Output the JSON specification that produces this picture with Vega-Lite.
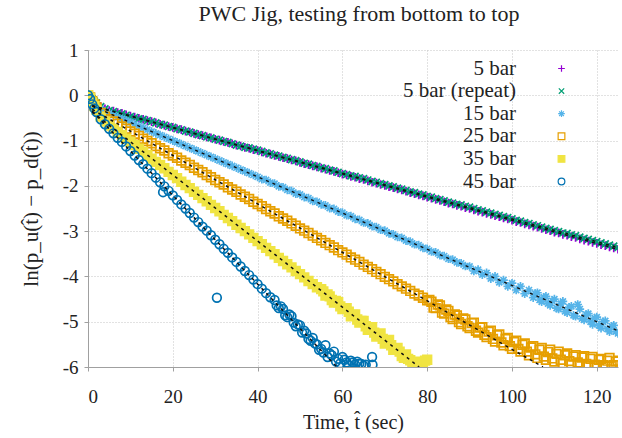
{
"$schema":"https://vega.github.io/schema/vega-lite/v6.json",
"width":530,"height":317,"autosize":"none",
"padding":{"left":88,"top":50,"right":4,"bottom":71},
"background":"white",
"title":{"text":"PWC Jig, testing from bottom to top","font":"Liberation Serif","fontSize":22,"fontWeight":"normal","color":"#222","anchor":"middle","offset":15,"dx":6},
"datasets":{
"pts":[
{"t":0,"a":0,"b":0,"c":0,"d":0,"e":0,"f":0},
{"t":0.5,"a":-0.03,"b":-0.03,"c":-0.04,"d":-0.05,"e":-0.06,"f":-0.08},
{"t":1,"a":-0.08,"b":-0.08,"c":-0.10,"d":-0.13,"e":-0.16,"f":-0.20},
{"t":1.5,"a":-0.13,"b":-0.13,"c":-0.16,"d":-0.20,"e":-0.24,"f":-0.29},
{"t":2,"a":-0.17,"b":-0.17,"c":-0.21,"d":-0.27,"e":-0.32,"f":-0.37},
{"t":3,"a":-0.25,"b":-0.25,"c":-0.30,"d":-0.39,"e":-0.47,"f":-0.53},
{"t":4,"a":-0.30,"b":-0.30,"c":-0.36,"d":-0.47,"e":-0.58,"f":-0.64},
{"t":5,"a":-0.34,"b":-0.34,"c":-0.40,"d":-0.53,"e":-0.67,"f":-0.74},
{"t":6,"a":-0.35,"b":-0.36,"c":-0.44,"d":-0.58,"e":-0.74,"f":-0.84},
{"t":7,"a":-0.38,"b":-0.39,"c":-0.48,"d":-0.63,"e":-0.81,"f":-0.94},
{"t":8,"a":-0.40,"b":-0.41,"c":-0.52,"d":-0.69,"e":-0.88,"f":-1.03},
{"t":9,"a":-0.43,"b":-0.44,"c":-0.56,"d":-0.74,"e":-0.96,"f":-1.13},
{"t":10,"a":-0.46,"b":-0.47,"c":-0.60,"d":-0.80,"e":-1.03,"f":-1.23},
{"t":11,"a":-0.48,"b":-0.49,"c":-0.64,"d":-0.85,"e":-1.10,"f":-1.33},
{"t":12,"a":-0.51,"b":-0.52,"c":-0.68,"d":-0.90,"e":-1.18,"f":-1.43},
{"t":13,"a":-0.53,"b":-0.53,"c":-0.72,"d":-0.96,"e":-1.25,"f":-1.52},
{"t":14,"a":-0.56,"b":-0.56,"c":-0.76,"d":-1.01,"e":-1.32,"f":-1.62},
{"t":15,"a":-0.58,"b":-0.58,"c":-0.80,"d":-1.06,"e":-1.40,"f":-1.72},
{"t":16,"a":-0.61,"b":-0.61,"c":-0.84,"d":-1.12,"e":-1.47,"f":-1.82},
{"t":17,"a":-0.64,"b":-0.64,"c":-0.88,"d":-1.17,"e":-1.54,"f":-1.92},
{"t":18,"a":-0.66,"b":-0.66,"c":-0.92,"d":-1.22,"e":-1.61,"f":-2.01},
{"t":19,"a":-0.69,"b":-0.69,"c":-0.96,"d":-1.28,"e":-1.69,"f":-2.11},
{"t":20,"a":-0.71,"b":-0.71,"c":-1.00,"d":-1.33,"e":-1.76,"f":-2.21},
{"t":21,"a":-0.74,"b":-0.74,"c":-1.04,"d":-1.38,"e":-1.83,"f":-2.31},
{"t":22,"a":-0.76,"b":-0.76,"c":-1.08,"d":-1.44,"e":-1.91,"f":-2.41},
{"t":23,"a":-0.79,"b":-0.79,"c":-1.12,"d":-1.49,"e":-1.98,"f":-2.50},
{"t":24,"a":-0.81,"b":-0.81,"c":-1.16,"d":-1.54,"e":-2.05,"f":-2.60},
{"t":25,"a":-0.84,"b":-0.84,"c":-1.20,"d":-1.60,"e":-2.13,"f":-2.70},
{"t":26,"a":-0.87,"b":-0.87,"c":-1.24,"d":-1.65,"e":-2.20,"f":-2.80},
{"t":27,"a":-0.89,"b":-0.89,"c":-1.28,"d":-1.70,"e":-2.27,"f":-2.90},
{"t":28,"a":-0.92,"b":-0.92,"c":-1.32,"d":-1.76,"e":-2.34,"f":-2.99},
{"t":29,"a":-0.94,"b":-0.94,"c":-1.36,"d":-1.81,"e":-2.42,"f":-3.09},
{"t":30,"a":-0.97,"b":-0.97,"c":-1.40,"d":-1.87,"e":-2.49,"f":-3.19},
{"t":31,"a":-0.99,"b":-0.99,"c":-1.44,"d":-1.92,"e":-2.56,"f":-3.29},
{"t":32,"a":-1.02,"b":-1.02,"c":-1.48,"d":-1.97,"e":-2.64,"f":-3.39},
{"t":33,"a":-1.04,"b":-1.04,"c":-1.52,"d":-2.03,"e":-2.71,"f":-3.48},
{"t":34,"a":-1.07,"b":-1.07,"c":-1.56,"d":-2.08,"e":-2.78,"f":-3.58},
{"t":35,"a":-1.10,"b":-1.10,"c":-1.60,"d":-2.13,"e":-2.86,"f":-3.68},
{"t":36,"a":-1.12,"b":-1.12,"c":-1.64,"d":-2.19,"e":-2.93,"f":-3.78},
{"t":37,"a":-1.15,"b":-1.15,"c":-1.68,"d":-2.24,"e":-3.00,"f":-3.88},
{"t":38,"a":-1.17,"b":-1.16,"c":-1.72,"d":-2.29,"e":-3.07,"f":-3.97},
{"t":39,"a":-1.20,"b":-1.19,"c":-1.76,"d":-2.35,"e":-3.15,"f":-4.07},
{"t":40,"a":-1.22,"b":-1.21,"c":-1.80,"d":-2.40,"e":-3.22,"f":-4.17},
{"t":41,"a":-1.25,"b":-1.24,"c":-1.85,"d":-2.45,"e":-3.29,"f":-4.27},
{"t":42,"a":-1.28,"b":-1.27,"c":-1.87,"d":-2.51,"e":-3.37,"f":-4.37},
{"t":43,"a":-1.30,"b":-1.29,"c":-1.93,"d":-2.56,"e":-3.44,"f":-4.46},
{"t":44,"a":-1.33,"b":-1.32,"c":-1.95,"d":-2.61,"e":-3.51,"f":-4.52},
{"t":45,"a":-1.35,"b":-1.34,"c":-2.01,"d":-2.67,"e":-3.59,"f":-4.70},
{"t":46,"a":-1.38,"b":-1.37,"c":-2.03,"d":-2.72,"e":-3.66,"f":-4.72},
{"t":47,"a":-1.40,"b":-1.39,"c":-2.09,"d":-2.77,"e":-3.73,"f":-4.90},
{"t":48,"a":-1.43,"b":-1.42,"c":-2.11,"d":-2.83,"e":-3.80,"f":-4.88},
{"t":49,"a":-1.45,"b":-1.44,"c":-2.17,"d":-2.88,"e":-3.88,"f":-5.10},
{"t":50,"a":-1.48,"b":-1.47,"c":-2.19,"d":-2.94,"e":-3.95,"f":-5.08},
{"t":51,"a":-1.51,"b":-1.50,"c":-2.25,"d":-2.99,"e":-4.02,"f":-5.20},
{"t":52,"a":-1.53,"b":-1.52,"c":-2.27,"d":-3.04,"e":-4.10,"f":-5.38},
{"t":53,"a":-1.56,"b":-1.55,"c":-2.33,"d":-3.10,"e":-4.17,"f":-5.36},
{"t":54,"a":-1.58,"b":-1.57,"c":-2.35,"d":-3.15,"e":-4.24,"f":-5.50},
{"t":55,"a":-1.61,"b":-1.60,"c":-2.41,"d":-3.20,"e":-4.28,"f":-5.60},
{"t":56,"a":-1.63,"b":-1.62,"c":-2.43,"d":-3.26,"e":-4.42,"f":-5.52},
{"t":57,"a":-1.66,"b":-1.65,"c":-2.49,"d":-3.31,"e":-4.44,"f":-5.70},
{"t":58,"a":-1.68,"b":-1.67,"c":-2.51,"d":-3.36,"e":-4.58,"f":-5.66},
{"t":59,"a":-1.71,"b":-1.70,"c":-2.57,"d":-3.42,"e":-4.57,"f":-5.82},
{"t":60,"a":-1.74,"b":-1.73,"c":-2.59,"d":-3.47,"e":-4.72,"f":-5.78},
{"t":61,"a":-1.76,"b":-1.75,"c":-2.65,"d":-3.52,"e":-4.70,"f":-5.90},
{"t":62,"a":-1.79,"b":-1.78,"c":-2.67,"d":-3.58,"e":-4.88,"f":-5.86},
{"t":63,"a":-1.81,"b":-1.79,"c":-2.73,"d":-3.63,"e":-4.84,"f":-5.95},
{"t":64,"a":-1.84,"b":-1.82,"c":-2.75,"d":-3.68,"e":-5.02,"f":-5.92},
{"t":65,"a":-1.86,"b":-1.84,"c":-2.81,"d":-3.74,"e":-4.98,"f":-5.97},
{"t":66,"a":-1.89,"b":-1.87,"c":-2.83,"d":-3.79,"e":-5.18},
{"t":67,"a":-1.92,"b":-1.90,"c":-2.89,"d":-3.84,"e":-5.12,"f":-5.78},
{"t":68,"a":-1.94,"b":-1.92,"c":-2.91,"d":-3.90,"e":-5.33},
{"t":69,"a":-1.97,"b":-1.95,"c":-2.97,"d":-3.95,"e":-5.26},
{"t":70,"a":-1.99,"b":-1.97,"c":-2.99,"d":-4.01,"e":-5.48},
{"t":71,"a":-2.02,"b":-2.00,"c":-3.05,"d":-4.06,"e":-5.40},
{"t":72,"a":-2.04,"b":-2.02,"c":-3.07,"d":-4.11,"e":-5.62},
{"t":73,"a":-2.07,"b":-2.05,"c":-3.13,"d":-4.17,"e":-5.58},
{"t":74,"a":-2.09,"b":-2.07,"c":-3.15,"d":-4.22,"e":-5.76},
{"t":75,"a":-2.12,"b":-2.10,"c":-3.21,"d":-4.27,"e":-5.72},
{"t":76,"a":-2.15,"b":-2.13,"c":-3.23,"d":-4.32,"e":-5.85},
{"t":77,"a":-2.17,"b":-2.15,"c":-3.29,"d":-4.38,"e":-5.92},
{"t":78,"a":-2.20,"b":-2.18,"c":-3.31,"d":-4.42,"e":-5.88},
{"t":79,"a":-2.22,"b":-2.20,"c":-3.37,"d":-4.47,"e":-5.95},
{"t":80,"a":-2.25,"b":-2.23,"c":-3.39,"d":-4.53,"e":-5.84},
{"t":81,"a":-2.27,"b":-2.25,"c":-3.45,"d":-4.56},
{"t":82,"a":-2.30,"b":-2.28,"c":-3.47,"d":-4.70},
{"t":83,"a":-2.32,"b":-2.30,"c":-3.53,"d":-4.64},
{"t":84,"a":-2.35,"b":-2.33,"c":-3.55,"d":-4.82},
{"t":85,"a":-2.38,"b":-2.36,"c":-3.61,"d":-4.76},
{"t":86,"a":-2.40,"b":-2.38,"c":-3.63,"d":-4.94},
{"t":87,"a":-2.43,"b":-2.41,"c":-3.69,"d":-4.86},
{"t":88,"a":-2.45,"b":-2.42,"c":-3.71,"d":-5.05},
{"t":89,"a":-2.48,"b":-2.45,"c":-3.77,"d":-4.95},
{"t":90,"a":-2.50,"b":-2.47,"c":-3.78,"d":-5.14},
{"t":91,"a":-2.53,"b":-2.50,"c":-3.88,"d":-5.02},
{"t":92,"a":-2.56,"b":-2.53,"c":-3.85,"d":-5.24},
{"t":93,"a":-2.58,"b":-2.55,"c":-3.96,"d":-5.12},
{"t":94,"a":-2.61,"b":-2.58,"c":-3.92,"d":-5.34},
{"t":95,"a":-2.63,"b":-2.60,"c":-4.05,"d":-5.20},
{"t":96,"a":-2.66,"b":-2.63,"c":-4.00,"d":-5.44},
{"t":97,"a":-2.68,"b":-2.65,"c":-4.13,"d":-5.28},
{"t":98,"a":-2.71,"b":-2.68,"c":-4.08,"d":-5.52},
{"t":99,"a":-2.73,"b":-2.70,"c":-4.22,"d":-5.36},
{"t":100,"a":-2.76,"b":-2.73,"c":-4.15,"d":-5.60},
{"t":101,"a":-2.79,"b":-2.76,"c":-4.30,"d":-5.42},
{"t":102,"a":-2.81,"b":-2.78,"c":-4.22,"d":-5.66},
{"t":103,"a":-2.84,"b":-2.81,"c":-4.38,"d":-5.48},
{"t":104,"a":-2.86,"b":-2.83,"c":-4.30,"d":-5.74},
{"t":105,"a":-2.89,"b":-2.86,"c":-4.47,"d":-5.54},
{"t":106,"a":-2.91,"b":-2.88,"c":-4.36,"d":-5.80},
{"t":107,"a":-2.94,"b":-2.91,"c":-4.56,"d":-5.58},
{"t":108,"a":-2.97,"b":-2.94,"c":-4.44,"d":-5.84},
{"t":109,"a":-2.99,"b":-2.96,"c":-4.64,"d":-5.62},
{"t":110,"a":-3.02,"b":-2.99,"c":-4.50,"d":-5.88},
{"t":111,"a":-3.04,"b":-3.01,"c":-4.72,"d":-5.66},
{"t":112,"a":-3.07,"b":-3.04,"c":-4.55,"d":-5.92},
{"t":113,"a":-3.09,"b":-3.05,"c":-4.80,"d":-5.70},
{"t":114,"a":-3.12,"b":-3.08,"c":-4.66,"d":-5.95},
{"t":115,"a":-3.14,"b":-3.10,"c":-4.88,"d":-5.74},
{"t":116,"a":-3.17,"b":-3.13,"c":-4.72,"d":-5.96},
{"t":117,"a":-3.20,"b":-3.16,"c":-4.96,"d":-5.76},
{"t":118,"a":-3.22,"b":-3.18,"c":-4.82,"d":-5.98},
{"t":119,"a":-3.25,"b":-3.21,"c":-5.06,"d":-5.78},
{"t":120,"a":-3.27,"b":-3.23,"c":-4.90,"d":-5.97},
{"t":121,"a":-3.30,"b":-3.26,"c":-5.14,"d":-5.82},
{"t":122,"a":-3.32,"b":-3.28,"c":-4.98,"d":-5.99},
{"t":123,"a":-3.35,"b":-3.31,"c":-5.22,"d":-5.80},
{"t":124,"a":-3.37,"b":-3.33,"c":-5.08,"d":-5.96},
{"t":125,"a":-3.40,"b":-3.36,"c":-5.26,"d":-5.86},
{"t":17.7,"f":-2.14},
{"t":30.4,"f":-4.47},
{"t":67.1,"f":-5.95},
{"t":44.5,"f":-4.64},{"t":45.5,"f":-4.66},{"t":46.5,"f":-4.86},{"t":47.5,"f":-4.84},{"t":48.5,"f":-5.02},{"t":49.5,"f":-5.06},{"t":50.5,"f":-5.24},{"t":51.5,"f":-5.26},{"t":52.5,"f":-5.42},{"t":53.5,"f":-5.48},{"t":54.5,"f":-5.62},{"t":55.5,"f":-5.68},{"t":56.5,"f":-5.78},{"t":57.5,"f":-5.74},{"t":58.5,"f":-5.88},{"t":59.5,"f":-5.92},{"t":60.5,"f":-5.84},{"t":61.5,"f":-5.96},{"t":62.5,"f":-5.90},{"t":63.5,"f":-5.88},{"t":64.5,"f":-5.93},{"t":65.5,"f":-5.95},
{"t":55.5,"e":-4.33},{"t":56.5,"e":-4.40},{"t":57.5,"e":-4.52},{"t":58.5,"e":-4.54},{"t":59.5,"e":-4.66},{"t":60.5,"e":-4.70},{"t":61.5,"e":-4.78},{"t":62.5,"e":-4.85},{"t":63.5,"e":-4.95},{"t":64.5,"e":-4.98},{"t":65.5,"e":-5.10},{"t":66.5,"e":-5.14},{"t":67.5,"e":-5.24},{"t":68.5,"e":-5.28},{"t":69.5,"e":-5.38},{"t":70.5,"e":-5.44},{"t":71.5,"e":-5.52},{"t":72.5,"e":-5.60},{"t":73.5,"e":-5.66},{"t":74.5,"e":-5.80},{"t":75.5,"e":-5.82},{"t":76.5,"e":-5.90},{"t":77.5,"e":-5.96},{"t":78.5,"e":-5.92},{"t":79.5,"e":-5.86},
{"t":80.5,"d":-4.52},{"t":81.5,"d":-4.69},{"t":82.5,"d":-4.62},{"t":83.5,"d":-4.80},{"t":84.5,"d":-4.73},{"t":85.5,"d":-4.90},{"t":86.5,"d":-4.84},{"t":87.5,"d":-5.01},{"t":88.5,"d":-4.93},{"t":89.5,"d":-5.10},{"t":90.5,"d":-5.03},{"t":91.5,"d":-5.20},{"t":92.5,"d":-5.13},{"t":93.5,"d":-5.29},{"t":94.5,"d":-5.22},{"t":95.5,"d":-5.38},{"t":96.5,"d":-5.30},{"t":97.5,"d":-5.46},{"t":98.5,"d":-5.38},{"t":99.5,"d":-5.54},{"t":100.5,"d":-5.45},{"t":101.5,"d":-5.60},{"t":102.5,"d":-5.51},{"t":103.5,"d":-5.66},{"t":104.5,"d":-5.57},
{"t":105.5,"c":-4.38,"d":-5.72},{"t":106.5,"c":-4.52,"d":-5.62},{"t":107.5,"c":-4.46,"d":-5.77},{"t":108.5,"c":-4.60,"d":-5.67},{"t":109.5,"c":-4.54,"d":-5.81},{"t":110.5,"c":-4.70,"d":-5.71},{"t":111.5,"c":-4.60,"d":-5.84},{"t":112.5,"c":-4.77,"d":-5.74},{"t":113.5,"c":-4.68,"d":-5.87},{"t":114.5,"c":-4.86,"d":-5.77},{"t":115.5,"c":-4.62,"d":-5.90},{"t":116.5,"c":-4.93,"d":-5.79},{"t":117.5,"c":-4.84,"d":-5.93},{"t":118.5,"c":-5.00,"d":-5.82},{"t":119.5,"c":-4.92,"d":-5.95},{"t":120.5,"c":-5.08,"d":-5.84},{"t":121.5,"c":-5.00,"d":-5.96},{"t":122.5,"c":-5.16,"d":-5.86},{"t":123.5,"c":-5.10,"d":-5.97},{"t":124.5,"c":-5.22,"d":-5.88}
],
"fits":[
{"s":"a","t":1,"v":-0.226},{"s":"a","t":125,"v":-3.40},
{"s":"b","t":1,"v":-0.235},{"s":"b","t":125,"v":-3.36},
{"s":"c","t":1,"v":-0.24},{"s":"c","t":125,"v":-5.20},
{"s":"d","t":1,"v":-0.31},{"s":"d","t":107.3,"v":-6.0},
{"s":"e","t":1,"v":-0.37},{"s":"e","t":78.1,"v":-6.0},
{"s":"f","t":1,"v":-0.35},{"s":"f","t":58.7,"v":-6.0}
]
},
"config":{
"font":"Liberation Serif",
"view":{"stroke":null},
"axis":{"labelFont":"Liberation Serif","titleFont":"Liberation Serif","labelFontSize":19,"titleFontSize":20,"titleFontWeight":"normal","labelColor":"#222","titleColor":"#222","grid":true,"gridDash":[1,2],"gridColor":"#c4c4c4","gridWidth":1,"domainColor":"#a0a0a0","tickColor":"#a0a0a0","tickSize":4},
"legend":{"labelFont":"Liberation Serif","labelFontSize":21,"labelColor":"#222"}
},
"layer":[
{
"data":{"name":"pts"},
"transform":[{"fold":["a","b","c","d","e","f"],"as":["s","v"]},{"filter":"isValid(datum.v)"}],
"mark":{"type":"point","filled":false,"size":75,"strokeWidth":1.7,"opacity":1,"clip":true},
"encoding":{
"x":{"field":"t","type":"quantitative","scale":{"domain":[0,125],"nice":false,"zero":false},"axis":{"values":[0,20,40,60,80,100,120],"title":"Time, t̂ (sec)","labelPadding":16,"titlePadding":6}},
"y":{"field":"v","type":"quantitative","scale":{"domain":[-6,1],"nice":false,"zero":false},"axis":{"values":[-6,-5,-4,-3,-2,-1,0,1],"title":"ln(p_u(t̂) − p_d(t̂))","titleFontSize":21,"labelPadding":6,"titlePadding":21,"labelExpr":"datum.value < 0 ? '-' + abs(datum.value) : '' + datum.value"}},
"color":{"field":"s","type":"nominal","scale":{"domain":["a","b","c","d","e","f"],"range":["#9400d3","#009e73","#56b4e9","#e69f00","#f0e442","#0072b2"]},
 "legend":{"orient":"none","legendX":463,"legendY":8,"title":null,"labelAlign":"right","labelOffset":-56,"labelFont":"Liberation Serif","labelFontSize":21,"labelColor":"#222","rowPadding":0.6,"symbolSize":45,"symbolStrokeWidth":1.2,"labelLimit":300,
 "labelExpr":"datum.label == 'a' ? '5 bar' : datum.label == 'b' ? '5 bar (repeat)' : datum.label == 'c' ? '15 bar' : datum.label == 'd' ? '25 bar' : datum.label == 'e' ? '35 bar' : '45 bar'"}},
"fill":{"field":"s","type":"nominal","scale":{"domain":["a","b","c","d","e","f"],"range":["transparent","transparent","transparent","transparent","#f0e442","transparent"]},"legend":null},
"shape":{"field":"s","type":"nominal","scale":{"domain":["a","b","c","d","e","f"],"range":["M-1,0H1M0,-1V1","M-0.8,-0.8L0.8,0.8M-0.8,0.8L0.8,-0.8","M-1,0H1M0,-1V1M-0.7,-0.7L0.7,0.7M-0.7,0.7L0.7,-0.7","square","square","circle"]},"legend":null},
"order":{"field":"s"}
}
},
{
"data":{"name":"fits"},
"mark":{"type":"line","color":"#111","strokeWidth":1.5,"strokeDash":[3,4],"clip":true},
"encoding":{
"x":{"field":"t","type":"quantitative"},
"y":{"field":"v","type":"quantitative"},
"detail":{"field":"s","type":"nominal"}
}
}
]
}
